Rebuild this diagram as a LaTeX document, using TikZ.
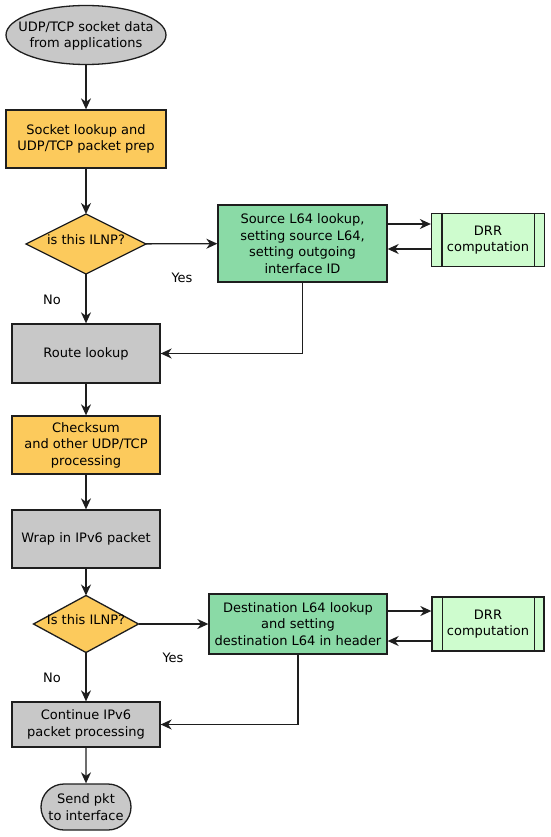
\documentclass[tikz,border=0pt]{standalone}
\usepackage{fontspec}
\setmainfont{DejaVu Sans}
\usetikzlibrary{shapes.geometric,shapes.misc,arrows.meta}
\definecolor{cyel}{RGB}{252,202,92}
\definecolor{cgrn}{RGB}{138,218,166}
\definecolor{clgr}{RGB}{206,252,206}
\definecolor{cgry}{RGB}{200,200,200}
\definecolor{cline}{RGB}{30,30,30}
\newcommand{\zt}[1]{\smash{\makebox[0pt]{#1}}}
\tikzset{
  base/.style={draw=cline, line width=1.3pt, align=center, inner sep=0pt, font=\fontsize{13}{16.5}\selectfont},
  ybox/.style={base, rectangle, fill=cyel},
  gbox/.style={base, rectangle, fill=cgrn},
  grbox/.style={base, rectangle, fill=cgry},
  drrbox/.style={base, rectangle, fill=clgr, minimum width=113pt, minimum height=53pt},
  decis/.style={base, diamond, fill=cyel, inner sep=0pt, outer sep=0pt},
  arr/.style={line width=1.3pt, draw=cline, -{Stealth[length=11pt,width=10pt,inset=3.5pt]}},
  ln/.style={line width=1.3pt, draw=cline},
  lbl/.style={font=\fontsize{13}{16}\selectfont, inner sep=0pt}
}
\begin{document}
\begin{tikzpicture}[x=1pt,y=-1pt]
\useasboundingbox (0,0) rectangle (550,837);
\node[base, ellipse, fill=cgry, minimum width=160pt, minimum height=59pt] (start) at (86,35) {\zt{\raisebox{-4pt}{\begin{tabular}{@{}c@{}}UDP/TCP socket data\\from applications\end{tabular}}}};
\node[ybox, minimum width=160pt, minimum height=58pt] (sock) at (86,139) {Socket lookup and\\UDP/TCP packet prep};
\node[decis, minimum width=120pt, minimum height=60pt] (d1) at (86,244) {\zt{is this ILNP?}};
\node[gbox, minimum width=169pt, minimum height=77pt] (g1) at (302.5,243.5) {Source L64 lookup,\\setting source L64,\\setting outgoing\\interface ID};
\node[drrbox] (drr1) at (488,240) {DRR\\computation};
\node[grbox, minimum width=148pt, minimum height=59pt] (route) at (86,353.5) {Route lookup};
\node[ybox, minimum width=148pt, minimum height=58pt] (chk) at (86,445) {Checksum\\and other UDP/TCP\\processing};
\node[grbox, minimum width=148pt, minimum height=58pt] (wrap) at (86,539) {Wrap in IPv6 packet};
\node[decis, minimum width=105pt, minimum height=57pt] (d2) at (86,624) {\zt{Is this ILNP?}};
\node[gbox, minimum width=178pt, minimum height=60pt] (g2) at (298,624) {Destination L64 lookup\\and setting\\destination L64 in header};
\node[drrbox, minimum width=112pt, minimum height=54pt] (drr2) at (488,624) {DRR\\computation};
\node[grbox, minimum width=148pt, minimum height=45pt] (cont) at (86,724.5) {Continue IPv6\\packet processing};
\node[base, rounded rectangle, fill=cgry, minimum width=90pt, minimum height=46pt] (send) at (86,807) {Send pkt\\to interface};
% inner lines of DRR boxes
\draw[ln] ([xshift=11pt]drr1.north west) -- ([xshift=11pt]drr1.south west);
\draw[ln] ([xshift=-11pt]drr1.north east) -- ([xshift=-11pt]drr1.south east);
\draw[ln] ([xshift=11pt]drr2.north west) -- ([xshift=11pt]drr2.south west);
\draw[ln] ([xshift=-10pt]drr2.north east) -- ([xshift=-10pt]drr2.south east);
% connectors
\draw[arr] (start) -- (sock);
\draw[arr] (sock) -- (d1);
\draw[arr] (d1) -- (g1);
\draw[arr] (d1) -- (route);
\draw[arr] (g1.east |- 0,224) -- (drr1.west |- 0,224);
\draw[arr] (drr1.west |- 0,249) -- (g1.east |- 0,249);
\draw[arr] (g1.south) |- (route.east);
\draw[arr] (route) -- (chk);
\draw[arr] (chk) -- (wrap);
\draw[arr] (wrap) -- (d2);
\draw[arr] (d2) -- (g2);
\draw[arr] (d2) -- (cont);
\draw[arr] (g2.east |- 0,611) -- (drr2.west |- 0,611);
\draw[arr] (drr2.west |- 0,641) -- (g2.east |- 0,641);
\draw[arr] (g2.south) |- (cont.east);
\draw[arr] (cont) -- (send);
% labels
\node[lbl] (yes1) at (182,278) {Yes};
\node[lbl] (no1) at (52,300) {No};
\node[lbl] (yes2) at (173,658) {Yes};
\node[lbl] (no2) at (52,678) {No};
\end{tikzpicture}
\end{document}
